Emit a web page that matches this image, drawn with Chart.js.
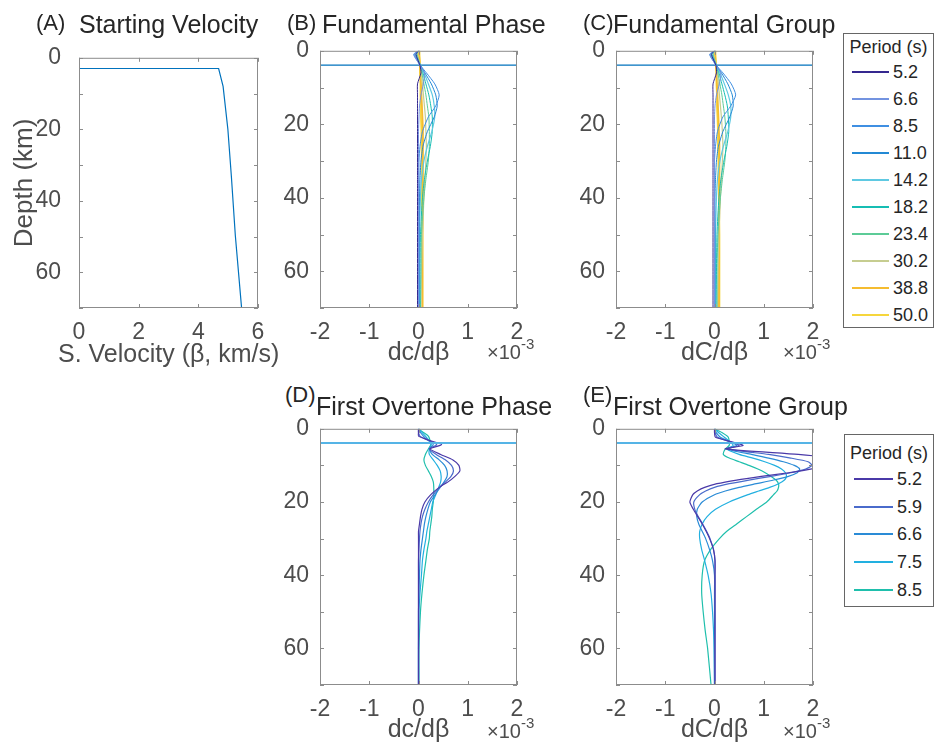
<!DOCTYPE html>
<html>
<head>
<meta charset="utf-8">
<title>Depth sensitivity kernels</title>
<script src="https://cdn.jsdelivr.net/npm/chart.js@4.4.1/dist/chart.umd.min.js"></script>
<style>
  body { margin: 0; background: #fff; }
  #fig { position: relative; width: 937px; height: 750px; overflow: hidden; font-family: 'Liberation Sans', Arial, sans-serif; }
  #fig canvas { position: absolute; }
  .lbl { position: absolute; white-space: nowrap; line-height: 1; color: #262626; }
  .ttl { font-size: 25px; }
  .tag { font-size: 22px; }
  .axt { font-size: 25px; color: #4d4d4d; }
  .mult { font-size: 20px; color: #4d4d4d; }
  .mult sup { font-size: 15px; vertical-align: 10px; line-height: 0; }
  .legend { position: absolute; box-sizing: border-box; border: 1px solid #666; background: #fff; font-size: 18px; color: #262626; line-height: 1; }
  .legend .head { display: flex; align-items: center; justify-content: center; }
  .legend .row { display: flex; align-items: center; }
  .legend .swatch { display: inline-block; }
</style>
</head>
<body>
<div id="fig">
  <canvas id="chartA"></canvas>
  <canvas id="chartB"></canvas>
  <canvas id="chartC"></canvas>
  <canvas id="chartD"></canvas>
  <canvas id="chartE"></canvas>

  <div class="lbl tag" style="left:36px;top:12px">(A)</div>
  <div class="lbl ttl" style="left:79px;top:12px">Starting Velocity</div>
  <div class="lbl tag" style="left:287px;top:12px">(B)</div>
  <div class="lbl ttl" style="left:322px;top:12px">Fundamental Phase</div>
  <div class="lbl tag" style="left:583px;top:12px">(C)</div>
  <div class="lbl ttl" style="left:613px;top:12px">Fundamental Group</div>
  <div class="lbl tag" style="left:285px;top:384px">(D)</div>
  <div class="lbl ttl" style="left:316px;top:394px">First Overtone Phase</div>
  <div class="lbl tag" style="left:583px;top:384px">(E)</div>
  <div class="lbl ttl" style="left:613px;top:394px">First Overtone Group</div>

  <div class="lbl axt" style="left:58px;top:341px">S. Velocity (β, km/s)</div>

  <div class="lbl mult" style="left:487px;top:342px">×10<sup>-3</sup></div>
  <div class="lbl mult" style="left:783px;top:342px">×10<sup>-3</sup></div>
  <div class="lbl mult" style="left:487px;top:721px">×10<sup>-3</sup></div>
  <div class="lbl mult" style="left:783px;top:721px">×10<sup>-3</sup></div>

  <div id="legendFund" class="legend" style="left:843px;top:33px;width:91px;height:295px;padding-top:2px"></div>
  <div id="legendOver" class="legend" style="left:844px;top:434px;width:90px;height:173px;padding-top:5px"></div>
</div>

<script>
// ---- data ----
// (A) starting shear velocity model
const velDepth = [0, 3, 3, 8, 20, 33.5, 49.7, 70];
const velBeta  = [0, 0, 4.68, 4.83, 4.99, 5.11, 5.24, 5.45];

// depth of the horizontal reference line in B-E (km)
const layerDepth = 3.9;

// fundamental mode periods (s)
const fundPeriods = ['5.2', '6.6', '8.5', '11.0', '14.2', '18.2', '23.4', '30.2', '38.8', '50.0'];
const fundDepth = [0, 1, 4, 6, 9, 12, 15, 18, 22, 26, 30, 35, 40, 50, 60, 70];

// (B) fundamental phase kernels, x 1e-3
const fundPhase52  = [0, -0.05, 0.03, 0.05, -0.02, -0.02, -0.02, -0.02, -0.02, -0.02, -0.02, -0.02, -0.02, -0.02, -0.02, -0.02];
const fundPhase66  = [0, -0.08, 0.03, 0.12, 0.1, 0.05, 0.02, 0.01, 0, 0, 0, 0, 0, 0, 0, 0];
const fundPhase85  = [0, -0.1, 0.04, 0.16, 0.33, 0.42, 0.35, 0.2, 0.08, 0.03, 0.01, 0.01, 0.01, 0.01, 0.01, 0.01];
const fundPhase110 = [0, -0.08, 0.04, 0.13, 0.26, 0.35, 0.38, 0.32, 0.18, 0.09, 0.05, 0.03, 0.02, 0.01, 0.01, 0.01];
const fundPhase142 = [0, -0.06, 0.04, 0.11, 0.2, 0.28, 0.32, 0.33, 0.27, 0.18, 0.11, 0.06, 0.04, 0.02, 0.02, 0.02];
const fundPhase182 = [0, -0.05, 0.04, 0.09, 0.15, 0.21, 0.25, 0.28, 0.28, 0.24, 0.18, 0.12, 0.08, 0.04, 0.03, 0.03];
const fundPhase234 = [0, -0.03, 0.04, 0.07, 0.11, 0.15, 0.18, 0.21, 0.22, 0.22, 0.2, 0.15, 0.11, 0.06, 0.05, 0.04];
const fundPhase302 = [0, -0.02, 0.04, 0.06, 0.08, 0.1, 0.12, 0.14, 0.15, 0.16, 0.15, 0.13, 0.11, 0.08, 0.06, 0.05];
const fundPhase388 = [0.01, 0.01, 0.03, 0.04, 0.05, 0.06, 0.07, 0.08, 0.09, 0.09, 0.09, 0.09, 0.09, 0.08, 0.08, 0.08];
const fundPhase500 = [0.02, 0.02, 0.03, 0.03, 0.04, 0.04, 0.05, 0.05, 0.06, 0.06, 0.07, 0.07, 0.07, 0.08, 0.08, 0.08];

// (C) fundamental group kernels, x 1e-3
const fundGroup52  = [0, -0.06, 0.03, 0.04, -0.03, -0.03, -0.03, -0.03, -0.03, -0.03, -0.03, -0.03, -0.03, -0.03, -0.03, -0.03];
const fundGroup66  = [0, -0.09, 0.03, 0.13, 0.1, 0.04, 0.01, 0, 0, 0, 0, 0, 0, 0, 0, 0];
const fundGroup85  = [0, -0.1, 0.04, 0.17, 0.34, 0.43, 0.33, 0.17, 0.06, 0.02, 0, 0, 0, 0, 0, 0];
const fundGroup110 = [0, -0.08, 0.04, 0.14, 0.27, 0.36, 0.38, 0.31, 0.17, 0.08, 0.04, 0.02, 0.01, 0.01, 0.01, 0.01];
const fundGroup142 = [0, -0.06, 0.04, 0.11, 0.2, 0.28, 0.33, 0.33, 0.27, 0.18, 0.11, 0.06, 0.04, 0.02, 0.02, 0.02];
const fundGroup182 = [0, -0.05, 0.04, 0.09, 0.15, 0.21, 0.26, 0.28, 0.29, 0.25, 0.19, 0.13, 0.09, 0.05, 0.04, 0.03];
const fundGroup234 = [0, -0.03, 0.04, 0.07, 0.11, 0.15, 0.18, 0.21, 0.23, 0.23, 0.21, 0.16, 0.12, 0.07, 0.05, 0.05];
const fundGroup302 = [0, -0.02, 0.04, 0.06, 0.08, 0.1, 0.12, 0.14, 0.16, 0.17, 0.16, 0.14, 0.12, 0.09, 0.07, 0.06];
const fundGroup388 = [0.01, 0.01, 0.03, 0.04, 0.05, 0.06, 0.07, 0.08, 0.09, 0.1, 0.1, 0.1, 0.1, 0.09, 0.09, 0.09];
const fundGroup500 = [0.02, 0.02, 0.03, 0.04, 0.04, 0.05, 0.05, 0.06, 0.07, 0.07, 0.08, 0.08, 0.09, 0.1, 0.1, 0.1];

// first overtone periods (s)
const overPeriods = ['5.2', '5.9', '6.6', '7.5', '8.5'];

// (D) first overtone phase kernels, x 1e-3
const overPhaseDepth = [0, 1, 2, 3, 4.3, 5.5, 7, 8.5, 10, 11.5, 13, 14.5, 16, 18, 20, 22, 24, 26, 28, 30, 33, 36, 40, 45, 50, 60, 70];
const overPhase52 = [0, 0, 0, 0.18, 0.47, 0.23, 0.45, 0.7, 0.82, 0.84, 0.74, 0.6, 0.42, 0.25, 0.13, 0.07, 0.04, 0.02, 0, 0, 0, 0, 0, 0, 0, 0, 0];
const overPhase59 = [0, 0, 0.03, 0.18, 0.37, 0.22, 0.36, 0.55, 0.67, 0.71, 0.66, 0.55, 0.43, 0.3, 0.2, 0.13, 0.08, 0.05, 0.03, 0.02, 0.01, 0, 0, 0, 0, 0, 0];
const overPhase66 = [0, 0.04, 0.1, 0.18, 0.3, 0.22, 0.28, 0.42, 0.53, 0.58, 0.58, 0.52, 0.44, 0.34, 0.24, 0.19, 0.15, 0.12, 0.1, 0.08, 0.05, 0.03, 0.02, 0.01, 0, 0, 0];
const overPhase75 = [0, 0.07, 0.14, 0.2, 0.26, 0.22, 0.22, 0.3, 0.38, 0.44, 0.46, 0.45, 0.41, 0.35, 0.29, 0.26, 0.23, 0.2, 0.17, 0.15, 0.11, 0.08, 0.06, 0.03, 0.01, 0, 0];
const overPhase85 = [0, 0.1, 0.2, 0.23, 0.25, 0.2, 0.14, 0.11, 0.14, 0.2, 0.26, 0.3, 0.31, 0.31, 0.3, 0.28, 0.27, 0.25, 0.23, 0.22, 0.18, 0.15, 0.11, 0.07, 0.04, 0.01, 0.01];

// (E) first overtone group kernels, x 1e-3
const overGroupDepth = [0, 1, 2.3, 4.5, 5.5, 7, 8, 9, 10, 11, 12, 13, 14, 15, 16, 17, 18, 20, 22, 24, 26, 28, 30, 33, 36, 40, 45, 50, 55, 60, 70];
const overGroup52 = [0, 0, 0.02, 0.58, 0.22, 1.7, 2.4, 2.6, 2.35, 1.95, 1.5, 0.95, 0.45, 0.05, -0.2, -0.35, -0.44, -0.5, -0.43, -0.34, -0.25, -0.17, -0.1, -0.02, 0.01, 0.01, 0.01, 0.01, 0.01, 0.01, 0.01];
const overGroup59 = [0, 0.01, 0.06, 0.5, 0.25, 1.1, 1.55, 1.9, 1.98, 1.85, 1.55, 1.15, 0.7, 0.3, 0, -0.18, -0.3, -0.42, -0.4, -0.33, -0.24, -0.16, -0.09, -0.02, 0.01, 0.01, 0.01, 0.01, 0.01, 0.01, 0.01];
const overGroup66 = [0, 0.03, 0.12, 0.45, 0.25, 0.75, 1.1, 1.4, 1.62, 1.73, 1.68, 1.5, 1.2, 0.85, 0.5, 0.22, 0, -0.25, -0.35, -0.36, -0.32, -0.25, -0.18, -0.1, -0.04, 0, 0, 0, 0, 0, 0];
const overGroup75 = [0, 0.08, 0.2, 0.38, 0.25, 0.5, 0.78, 1.02, 1.22, 1.36, 1.44, 1.46, 1.42, 1.3, 1.12, 0.9, 0.68, 0.3, 0.02, -0.15, -0.25, -0.3, -0.3, -0.26, -0.2, -0.13, -0.07, -0.04, -0.02, -0.01, 0];
const overGroup85 = [0, 0.15, 0.28, 0.3, 0.22, 0.18, 0.3, 0.5, 0.7, 0.88, 1.03, 1.15, 1.25, 1.3, 1.3, 1.27, 1.2, 1.06, 0.85, 0.65, 0.45, 0.25, 0.1, -0.08, -0.2, -0.25, -0.26, -0.23, -0.19, -0.14, -0.07];

// ---- styles ----
const fundColors = ['#35288f', '#7393e0', '#3f8fe2', '#2389d4', '#5fc9e2', '#16bdb3', '#5ccb97', '#c6cd90', '#f5bc30', '#f6d63c'];
const fundWidths = [1, 1, 1, 1, 1.2, 1, 1, 1.2, 1.8, 1.8];
const overColors = ['#4a39a8', '#4a6bcb', '#2a8bd6', '#22b0e0', '#1fbfac'];
const TICK_COLOR = '#4d4d4d';
const AXIS_COLOR = '#8c8c8c';

Chart.defaults.font.family = "'Liberation Sans', Arial, sans-serif";

// plot boxes in page pixels
const boxA = { left: 79, top: 49, right: 258, bottom: 308 };
const boxB = { left: 320, top: 49, right: 517, bottom: 308 };
const boxC = { left: 616, top: 49, right: 813, bottom: 308 };
const boxD = { left: 320, top: 427, right: 517, bottom: 685 };
const boxE = { left: 616, top: 427, right: 813, bottom: 685 };
const PAD_T = 15, PAD_R = 15, X_AXIS_H = 65;

function placeCanvas(id, box, yAxisW) {
  const c = document.getElementById(id);
  c.width = box.right - box.left + yAxisW + PAD_R;
  c.height = box.bottom - box.top + PAD_T + X_AXIS_H;
  c.style.left = (box.left - yAxisW) + 'px';
  c.style.top = (box.top - PAD_T) + 'px';
  return c;
}

// MATLAB style box with inward ticks on all four sides
const boxTicks = {
  id: 'boxTicks',
  afterDatasetsDraw(chart) {
    const { ctx, chartArea: a, scales: { x, y } } = chart;
    ctx.save();
    ctx.strokeStyle = AXIS_COLOR;
    ctx.lineWidth = 1;
    ctx.beginPath();
    x.ticks.forEach(t => {
      const px = Math.round(x.getPixelForValue(t.value)) + 0.5;
      ctx.moveTo(px, a.top); ctx.lineTo(px, a.top + 4);
      ctx.moveTo(px, a.bottom); ctx.lineTo(px, a.bottom - 4);
    });
    y.ticks.forEach(t => {
      const py = Math.round(y.getPixelForValue(t.value)) + 0.5;
      ctx.moveTo(a.left, py); ctx.lineTo(a.left + 4, py);
      ctx.moveTo(a.right, py); ctx.lineTo(a.right - 4, py);
    });
    ctx.stroke();
    ctx.strokeRect(a.left + 0.5, a.top + 0.5, a.right - a.left - 1, a.bottom - a.top - 1);
    ctx.restore();
  }
};

function profile(depths, values, color, width, tension) {
  return {
    data: depths.map((d, i) => ({ x: values[i], y: d })),
    borderColor: color,
    borderWidth: width,
    showLine: true,
    pointRadius: 0,
    tension: tension || 0
  };
}

function layerLine(color, width) {
  return {
    data: [{ x: -2, y: layerDepth }, { x: 2, y: layerDepth }],
    borderColor: color, borderWidth: width, showLine: true, pointRadius: 0
  };
}

function panelOptions(xMin, xMax, xStep, xTitle, yTitle, yAxisW, yTickPad) {
  return {
    responsive: false,
    animation: false,
    devicePixelRatio: 1,
    layout: { padding: { top: PAD_T, right: PAD_R, left: 0, bottom: 0 } },
    plugins: { legend: { display: false }, tooltip: { enabled: false } },
    scales: {
      x: {
        type: 'linear', min: xMin, max: xMax,
        grid: { display: false }, border: { display: false },
        ticks: { stepSize: xStep, autoSkip: false, maxRotation: 0, padding: 3, color: TICK_COLOR, font: { size: 23 } },
        title: { display: !!xTitle, text: xTitle || '', color: TICK_COLOR, font: { size: 25 }, padding: { top: 0, bottom: 5 } },
        afterFit: s => { s.height = X_AXIS_H; }
      },
      y: {
        type: 'linear', min: 0, max: 70, reverse: true,
        grid: { display: false }, border: { display: false },
        ticks: {
          stepSize: 10, autoSkip: false, padding: yTickPad, color: TICK_COLOR, font: { size: 23 },
          callback: v => (v % 20 === 0 ? v : '')
        },
        title: { display: !!yTitle, text: yTitle || '', color: TICK_COLOR, font: { size: 26 }, padding: { top: 9, bottom: 0 } },
        afterFit: s => { s.width = yAxisW; }
      }
    }
  };
}

// (A)
new Chart(placeCanvas('chartA', boxA, 79), {
  type: 'scatter',
  data: { datasets: [profile(velDepth, velBeta, '#0072bd', 1.2)] },
  options: panelOptions(0, 6, 2, null, 'Depth (km)', 79, 10),
  plugins: [boxTicks]
});

// (B) and (C)
const fundPhaseSeries = [fundPhase52, fundPhase66, fundPhase85, fundPhase110, fundPhase142, fundPhase182, fundPhase234, fundPhase302, fundPhase388, fundPhase500];
const fundGroupSeries = [fundGroup52, fundGroup66, fundGroup85, fundGroup110, fundGroup142, fundGroup182, fundGroup234, fundGroup302, fundGroup388, fundGroup500];

function fundDatasets(series) {
  const sets = [];
  series.forEach((vals, i) => sets.push(profile(fundDepth, vals, fundColors[i], fundWidths[i], 0.2)));
  sets.push(layerLine('#0072bd', 1.2));
  return sets;
}

new Chart(placeCanvas('chartB', boxB, 70), {
  type: 'scatter',
  data: { datasets: fundDatasets(fundPhaseSeries) },
  options: panelOptions(-2, 2, 1, 'dc/dβ', null, 70, 3),
  plugins: [boxTicks]
});

new Chart(placeCanvas('chartC', boxC, 70), {
  type: 'scatter',
  data: { datasets: fundDatasets(fundGroupSeries) },
  options: panelOptions(-2, 2, 1, 'dC/dβ', null, 70, 3),
  plugins: [boxTicks]
});

// (D) and (E)
const overPhaseSeries = [overPhase52, overPhase59, overPhase66, overPhase75, overPhase85];
const overGroupSeries = [overGroup52, overGroup59, overGroup66, overGroup75, overGroup85];

function overDatasets(depths, series) {
  const sets = [layerLine('#55b4e6', 2)];
  series.forEach((vals, i) => sets.push(profile(depths, vals, overColors[i], 1.2, 0.2)));
  return sets;
}

new Chart(placeCanvas('chartD', boxD, 70), {
  type: 'scatter',
  data: { datasets: overDatasets(overPhaseDepth, overPhaseSeries) },
  options: panelOptions(-2, 2, 1, 'dc/dβ', null, 70, 3),
  plugins: [boxTicks]
});

new Chart(placeCanvas('chartE', boxE, 70), {
  type: 'scatter',
  data: { datasets: overDatasets(overGroupDepth, overGroupSeries) },
  options: panelOptions(-2, 2, 1, 'dC/dβ', null, 70, 3),
  plugins: [boxTicks]
});

// legends built from the period lists
function buildLegend(id, labels, colors, titleH, rowH, lineL, lineW, gap) {
  const box = document.getElementById(id);
  let html = '<div class="head" style="height:' + titleH + 'px">Period (s)</div>';
  labels.forEach((lab, i) => {
    html += '<div class="row" style="height:' + rowH + 'px">' +
      '<span class="swatch" style="margin-left:' + lineL + 'px;width:' + lineW + 'px;height:2px;background:' +
      colors[i] + ';margin-right:' + gap + 'px"></span>' +
      '<span>' + lab + '</span></div>';
  });
  box.innerHTML = html;
}

buildLegend('legendFund', fundPeriods, fundColors, 22, 27.1, 8, 37, 4);
buildLegend('legendOver', overPeriods, overColors, 25, 27.75, 9, 39, 4);
</script>
</body>
</html>
